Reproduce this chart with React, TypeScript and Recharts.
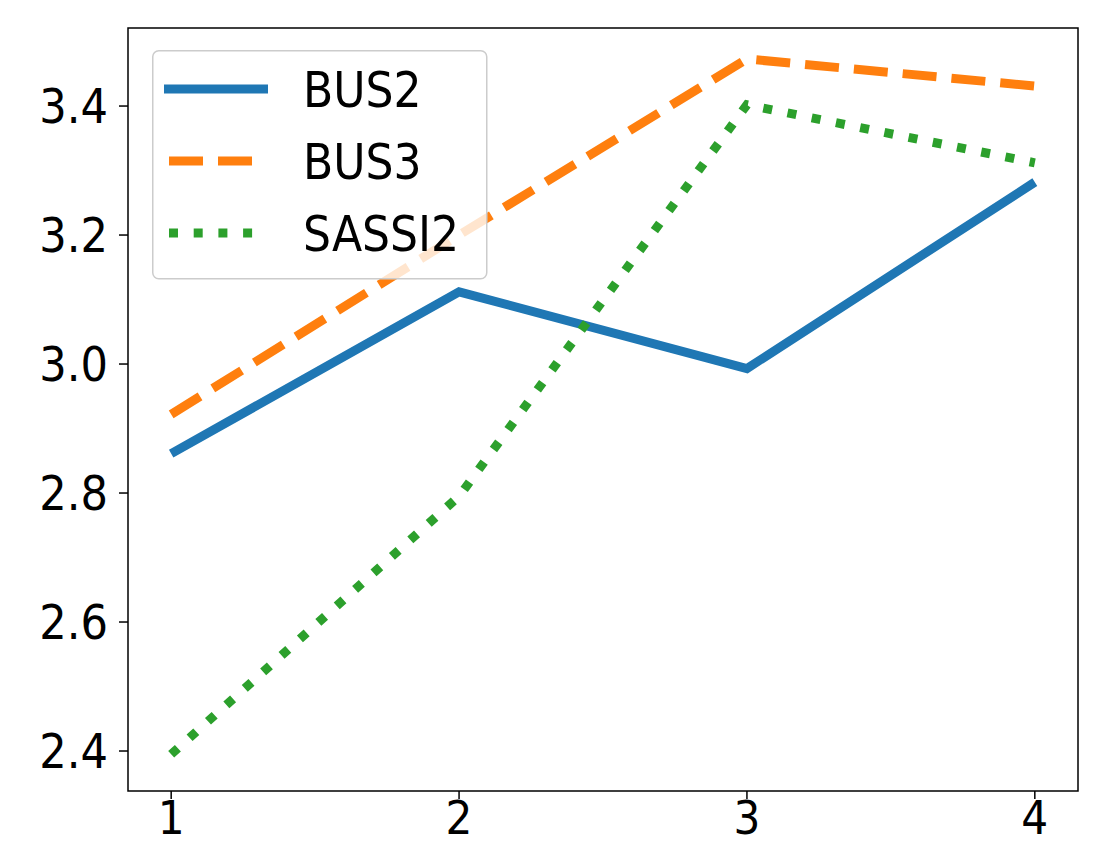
import React from 'react';
import { LineChart, Line, XAxis, YAxis, ReferenceArea } from 'recharts';

const steps = [1, 2, 3, 4];
const bus2 = [2.861, 3.112, 2.993, 3.282];
const bus3 = [2.922, 3.2, 3.473, 3.431];
const sassi2 = [2.395, 2.795, 3.402, 3.312];
const seriesNames = ['BUS2', 'BUS3', 'SASSI2'];
const seriesColors = ['#1f77b4', '#ff7f0e', '#2ca02c'];
const seriesDash = ['', '34 15', '9 15.7'];
const xTicks = [1, 2, 3, 4];
const yTicks = [2.4, 2.6, 2.8, 3.0, 3.2, 3.4];

const xDomain = [0.85, 4.15];
const yDomain = [2.338, 3.521];

const data = steps.map((s, i) => ({ x: s, BUS2: bus2[i], BUS3: bus3[i], SASSI2: sassi2[i] }));

const FONT = "'DejaVu Sans Condensed', 'DejaVu Sans', sans-serif";
const LW = 9;

const LegendBox = () => {
  const rows = [39, 111, 183];
  return (
    <svg width={336} height={230} style={{ display: 'block', overflow: 'visible' }}>
      <rect x={0.75} y={0.75} width={334} height={228} rx={6} ry={6}
        fill="rgba(255,255,255,0.8)" stroke="#cccccc" strokeWidth={1.5} />
      {seriesNames.map((n, i) => (
        <g key={n}>
          <line x1={i === 0 ? 12 : 17} x2={i === 0 ? 116 : 101} y1={rows[i]} y2={rows[i]}
            stroke={seriesColors[i]} strokeWidth={LW}
            strokeDasharray={seriesDash[i] || undefined} />
          <text x={151} y={rows[i] + 18} fontFamily={FONT} fontSize={49} fill="#000">{n}</text>
        </g>
      ))}
    </svg>
  );
};

export default function App() {
  return (
    <div style={{ position: 'absolute', left: 0, top: 0, width: 1107, height: 847, background: '#fff' }}>
      <LineChart width={1107} height={847} data={data} margin={{ top: 28, right: 29, bottom: 0, left: 0 }}>
        <XAxis dataKey="x" type="number" domain={xDomain} ticks={xTicks} allowDataOverflow
          height={56} axisLine={false} tickSize={8} tickMargin={2}
          tickLine={{ stroke: '#000', strokeWidth: 1.5 }}
          tick={{ fill: '#000', fontSize: 47, fontFamily: FONT }} />
        <YAxis type="number" domain={yDomain} ticks={yTicks} allowDataOverflow
          width={128} axisLine={false} tickSize={9} tickMargin={11}
          tickFormatter={(v: number) => v.toFixed(1)}
          tickLine={{ stroke: '#000', strokeWidth: 1.5 }}
          tick={{ fill: '#000', fontSize: 48, fontFamily: FONT }} />
        <ReferenceArea x1={xDomain[0]} x2={xDomain[1]} y1={yDomain[0]} y2={yDomain[1]}
          fill="none" fillOpacity={0} stroke="#000" strokeWidth={1.5} ifOverflow="visible" />
        {seriesNames.map((n, i) => (
          <Line key={n} dataKey={n} type="linear" stroke={seriesColors[i]} strokeWidth={LW}
            strokeDasharray={seriesDash[i] || undefined} dot={false} activeDot={false}
            strokeLinejoin="miter" strokeLinecap="butt"
            isAnimationActive={false} />
        ))}
      </LineChart>
      <div style={{ position: 'absolute', left: 152, top: 50, width: 336, height: 230 }}>
        <LegendBox />
      </div>
    </div>
  );
}
